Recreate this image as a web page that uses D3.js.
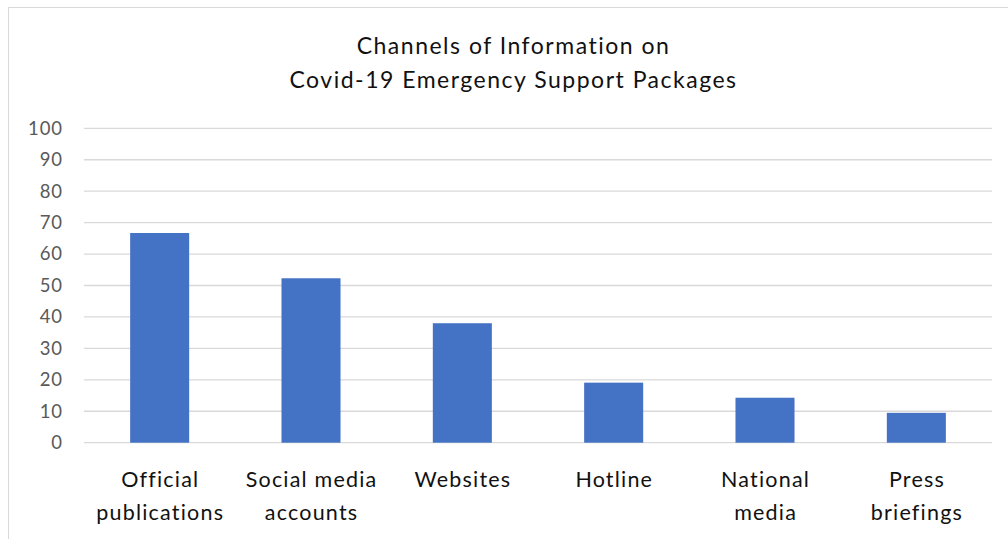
<!DOCTYPE html>
<html>
<head>
<meta charset="utf-8">
<script src="https://cdn.jsdelivr.net/npm/d3@7"></script>
<style>
  html, body { margin: 0; padding: 0; background: #fff; }
  svg { display: block; }
  text { font-family: Lato, "Open Sans", sans-serif; }
</style>
</head>
<body>
<svg id="chart" width="1008" height="539"></svg>
<script>
// Share of respondents citing each channel
const categories = [
  ["Official", "publications"],
  ["Social media", "accounts"],
  ["Websites"],
  ["Hotline"],
  ["National", "media"],
  ["Press", "briefings"]
];
const values = [66.7, 52.3, 38.0, 19.1, 14.3, 9.5];
const yTicks = [0, 10, 20, 30, 40, 50, 60, 70, 80, 90, 100];
const titleLines = ["Channels of Information on", "Covid-19 Emergency Support Packages"];

const svg = d3.select("#chart");
const W = 1008, H = 539;
const plot = { left: 84, right: 992, top: 128.3, bottom: 442.7 };

// chart frame
svg.append("rect").attr("x", 8.5).attr("y", 7.5).attr("width", W + 10).attr("height", H + 10)
  .attr("fill", "#fff").attr("stroke", "#d9d9d9").attr("stroke-width", 1);

const x = d3.scaleBand()
  .domain(d3.range(categories.length))
  .range([plot.left, plot.right])
  .paddingInner(0.61)
  .paddingOuter(0.305);

const y = d3.scaleLinear().domain([0, 100]).range([plot.bottom, plot.top]);

// gridlines
svg.append("g")
  .selectAll("line").data(yTicks).join("line")
  .attr("x1", plot.left).attr("x2", plot.right)
  .attr("y1", d => y(d)).attr("y2", d => y(d))
  .attr("stroke", "#d9d9d9").attr("stroke-width", 1.3);

// y axis labels
const yAxis = d3.axisLeft(y).tickValues(yTicks).tickSize(0).tickPadding(0);
const gy = svg.append("g").attr("transform", `translate(63,0)`).call(yAxis);
gy.select(".domain").remove();
gy.selectAll("text")
  .attr("fill", "#595959")
  .style("font-family", "Lato, 'Open Sans', sans-serif")
  .style("letter-spacing", "0.9px")
  .style("font-size", "18.5px");

// bars
svg.append("g")
  .selectAll("rect").data(values).join("rect")
  .attr("x", (d, i) => x(i))
  .attr("width", x.bandwidth())
  .attr("y", d => y(d))
  .attr("height", d => y(0) - y(d))
  .attr("fill", "#4472c4");

// category labels
const xl = svg.append("g");
categories.forEach((lines, i) => {
  const cx = x(i) + x.bandwidth() / 2;
  const t = xl.append("text")
    .attr("text-anchor", "middle")
    .attr("fill", "#111")
    .style("letter-spacing", "1.2px")
    .style("font-size", "21.5px");
  lines.forEach((ln, j) => {
    t.append("tspan").attr("x", cx + 0.6).attr("y", 487 + j * 33).text(ln);
  });
});

// title
const tt = svg.append("text")
  .attr("text-anchor", "middle")
  .attr("fill", "#111")
  .style("letter-spacing", "1.5px")
  .style("font-size", "23px");
titleLines.forEach((ln, j) => {
  tt.append("tspan").attr("x", 513.5).attr("y", 54 + j * 34).text(ln);
});
</script>
</body>
</html>
